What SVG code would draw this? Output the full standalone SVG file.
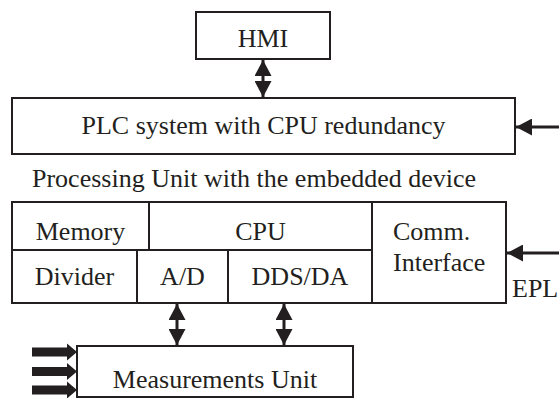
<svg xmlns="http://www.w3.org/2000/svg" width="559" height="398" viewBox="0 0 559 398">
<defs>
<style>
.box{fill:#fff;stroke:#231f20;stroke-width:2}
.ln{fill:none;stroke:#231f20;stroke-width:2}
text{font-family:"Liberation Serif","DejaVu Serif","Noto Serif",serif;font-size:26px;fill:#231f20}
.c{text-anchor:middle}
.conn{fill:none;stroke:#231f20;stroke-width:3}
.head{fill:#231f20}
</style>
<marker id="ah" markerUnits="userSpaceOnUse" markerWidth="16" markerHeight="17" viewBox="0 0 16 17" refX="16" refY="8.5" orient="auto-start-reverse">
<path d="M0,0 L16,8.5 L0,17 z" class="head"/>
</marker>
</defs>
<rect width="559" height="398" fill="#fff"/>

<g id="hmi">
<rect class="box" x="196" y="12" width="134" height="47"/>
<text class="c" x="263" y="47" font-family="Liberation Serif, serif">HMI</text>
</g>

<g id="plc">
<rect class="box" x="12" y="98" width="503" height="56"/>
<text class="c" x="263.5" y="134" font-family="Liberation Serif, serif">PLC system with CPU redundancy</text>
</g>

<g id="processing-label">
<text x="32" y="187" font-family="Liberation Serif, serif">Processing Unit with the embedded device</text>
</g>

<g id="processing-unit">
<rect class="box" x="12" y="202" width="494" height="101"/>
<path class="ln" d="M12,250 H372 M149,202 V250 M372,202 V303 M137,250 V303 M228,250 V303"/>
</g>
<g id="memory"><text class="c" x="80.5" y="240" font-family="Liberation Serif, serif">Memory</text></g>
<g id="cpu"><text class="c" x="260.5" y="240" font-family="Liberation Serif, serif">CPU</text></g>
<g id="comm"><text x="393" y="240" font-family="Liberation Serif, serif">Comm.</text><text x="393" y="271" font-family="Liberation Serif, serif">Interface</text></g>
<g id="divider"><text class="c" x="74.5" y="285" font-family="Liberation Serif, serif">Divider</text></g>
<g id="ad"><text class="c" x="182.5" y="285" font-family="Liberation Serif, serif">A/D</text></g>
<g id="dds"><text class="c" x="300" y="285" font-family="Liberation Serif, serif">DDS/DA</text></g>

<g id="measurements">
<rect class="box" x="77" y="346" width="276" height="51"/>
<text class="c" x="215" y="388" font-family="Liberation Serif, serif">Measurements Unit</text>
</g>

<g id="epl"><text x="512" y="297" font-family="Liberation Serif, serif">EPL</text></g>

<g id="connectors">
<line class="conn" x1="263" y1="60" x2="263" y2="97" marker-start="url(#ah)" marker-end="url(#ah)"/>
<line class="conn" x1="559" y1="127" x2="516" y2="127" marker-end="url(#ah)"/>
<line class="conn" x1="559" y1="253" x2="507" y2="253" marker-end="url(#ah)"/>
<line class="conn" x1="177" y1="304" x2="177" y2="345" marker-start="url(#ah)" marker-end="url(#ah)"/>
<line class="conn" x1="284" y1="304" x2="284" y2="345" marker-start="url(#ah)" marker-end="url(#ah)"/>
<polygon class="head" points="32,347.5 67,347.5 67,343.5 77,352 67,360.5 67,356.5 32,356.5"/>
<polygon class="head" points="32,367 67,367 67,363 77,371.5 67,380 67,376 32,376"/>
<polygon class="head" points="32,385.5 67,385.5 67,381.5 77,390 67,398.5 67,394.5 32,394.5"/>
</g>
</svg>
